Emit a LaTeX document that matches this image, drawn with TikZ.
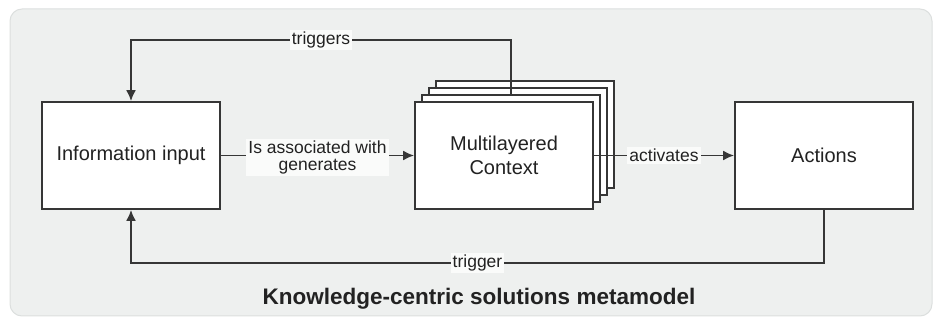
\documentclass[tikz,border=0pt]{standalone}
\usepackage{fontspec}
\setmainfont{Liberation Sans}
\usetikzlibrary{positioning,arrows.meta}
\definecolor{bgfill}{HTML}{EEF0EF}
\definecolor{bgline}{HTML}{DCDFDE}
\definecolor{linegray}{HTML}{363636}
\definecolor{txtgray}{HTML}{222222}
\definecolor{lblfill}{HTML}{FAFBFA}

\begin{document}
\begin{tikzpicture}[
                x=1pt, y=-1pt,
                box/.style={rectangle,draw=linegray,fill=white,line width=1.8pt,minimum width=178pt,minimum height=107pt,
                            align=center,text=txtgray,font=\fontsize{20}{24}\selectfont},
                rel/.style={draw=linegray,line width=1.8pt},
                arr/.style={rel,-{Latex[length=11pt,width=10pt]}},
                lbl/.style={fill=lblfill,text=txtgray,inner sep=2pt,align=center,font=\fontsize{17.5}{17}\selectfont},
            ]

            % Frame
            \useasboundingbox (0,0) rectangle (935,320);
            \draw[bgline,fill=bgfill,line width=1pt,rounded corners=12pt] (10,9) rectangle (932,316);

            % Define nodes
            \node[box] (In) at (131,155.5) {Information input};
            \node[box] (C3) at (525,134.5) {};
            \node[box] (C2) at (518,141.5) {};
            \node[box] (C1) at (511,148.5) {};
            \node[box] (C0) at (504,155.5) {Multilayered\\Context};
            \node[box] (Act) at (824,155.5) {Actions};

            % Draw connections
            \draw[arr] (In) -- node[lbl,yshift=-2pt] {Is associated with\\generates} (C0);
            \draw[arr] (C0) -- node[lbl] {activates} (Act);

            % Draw feedback loops
            \draw[arr] (C1.north) -- ++(0,-54) -| node[lbl,pos=0.25] {triggers} (In.north);
            \draw[arr] (Act.south) -- ++(0,53) -| node[lbl,pos=0.25] {trigger} (In.south);

            % Title
            \node[font=\bfseries\fontsize{22.5}{26}\selectfont,text=txtgray] (T) at (479,299) {Knowledge-centric solutions metamodel};

            \end{tikzpicture}
\end{document}
